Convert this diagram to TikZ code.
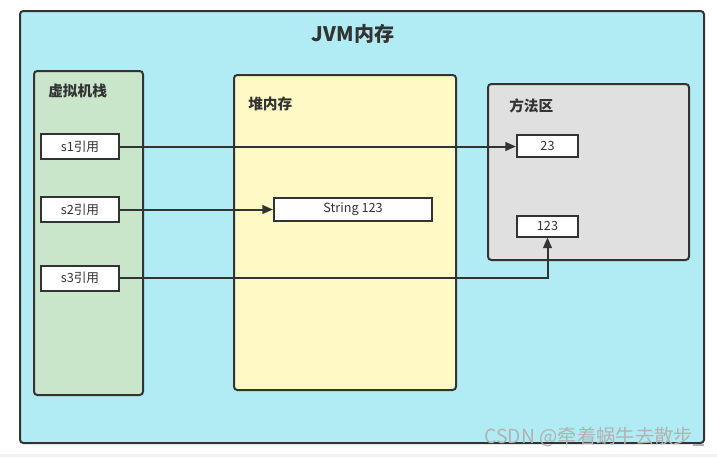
\documentclass[tikz,border=0pt]{standalone}
\usepackage{fontspec}
\setmainfont{Noto Sans CJK SC}
\usetikzlibrary{arrows.meta}
\definecolor{linec}{HTML}{333333}
\definecolor{outerfill}{HTML}{B1EBF3}
\definecolor{greenfill}{HTML}{C9E6CB}
\definecolor{yellowfill}{HTML}{FFF9C6}
\definecolor{grayfill}{HTML}{E0E0E0}
\tikzset{
  panel/.style={draw=linec, line width=1.5pt, rounded corners=2.5pt},
  cell/.style={draw=linec, line width=1.5pt, fill=white, text=linec, font=\fontsize{9.5}{11}\selectfont, inner sep=0pt},
  paneltitle/.style={text=linec, font=\bfseries\fontsize{11}{13}\selectfont, anchor=west, inner sep=0pt},
  link/.style={draw=linec, line width=1.5pt, -{Triangle[length=8pt,width=6.5pt]}}
}
\begin{document}
\begin{tikzpicture}[x=0.75pt,y=-0.75pt]
\useasboundingbox (0,0) rectangle (717,457);
\fill[white] (0,0) rectangle (717,457);
\fill[black!5] (0,454) rectangle (717,457);
% outer
\draw[panel, fill=outerfill] (20,11) rectangle (704,443);
\node[text=linec, font=\bfseries\fontsize{15}{17}\selectfont] (title) at (353,34) {JVM内存};
% panels
\draw[panel, fill=greenfill] (34,71) rectangle (143,395);
\node[paneltitle] (stacktitle) at (48,91) {虚拟机栈};
\draw[panel, fill=yellowfill] (234,75) rectangle (456,390);
\node[paneltitle] (heaptitle) at (248,104) {堆内存};
\draw[panel, fill=grayfill] (488,84) rectangle (689,260);
\node[paneltitle] (methodtitle) at (509,106) {方法区};
% cells
\node[cell, minimum width=78*0.75pt, minimum height=25*0.75pt] (s1) at (80,146.5) {s1引用};
\node[cell, minimum width=78*0.75pt, minimum height=25*0.75pt] (s2) at (80,209.5) {s2引用};
\node[cell, minimum width=78*0.75pt, minimum height=25*0.75pt] (s3) at (80,278) {s3引用};
\node[cell, minimum width=158*0.75pt, minimum height=23*0.75pt] (str) at (353,209.5) {String 123};
\node[cell, minimum width=61*0.75pt, minimum height=22*0.75pt] (c23) at (547.5,146) {23};
\node[cell, minimum width=61*0.75pt, minimum height=21*0.75pt] (c123) at (547.5,226) {123};
% links
\draw[link] (s1.east) -- (s1.east -| c23.west);
\draw[link] (s2.east) -- (str.west);
\draw[link] (s3.east) -| (c123.south);
% watermark
\node[text=black!30, font=\fontsize{14.5}{16}\selectfont, anchor=east, inner sep=0pt] (wm) at (704,437) {CSDN @牵着蜗牛去散步\rule[-1.5pt]{8pt}{0.8pt}};
\end{tikzpicture}
\end{document}
